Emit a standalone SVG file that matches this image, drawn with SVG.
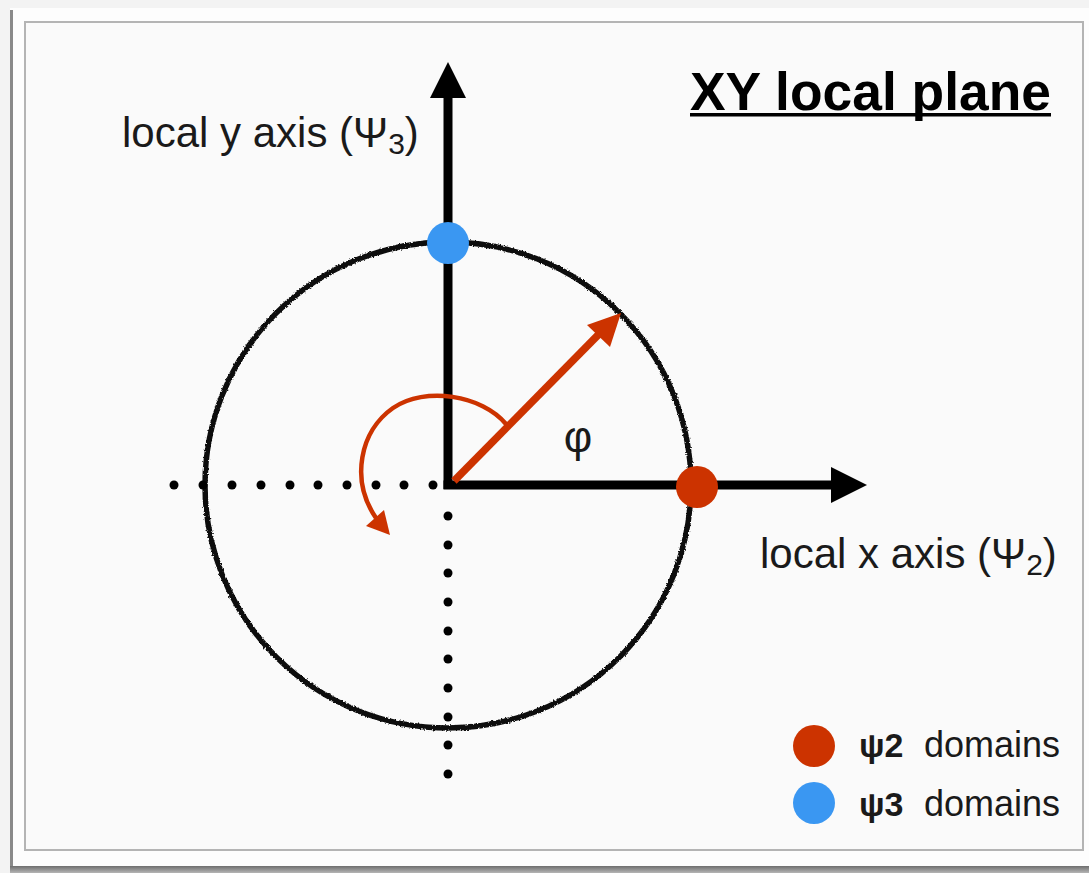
<svg xmlns="http://www.w3.org/2000/svg" width="1089" height="873" viewBox="0 0 1089 873">
<defs>
<style>
.lbl{font-family:"Liberation Sans",Arial,sans-serif;fill:#1a1a1a;}
.axis{stroke:#000;stroke-width:9;fill:none;}
.dot{fill:#000;}
.red{fill:#cc3300;}
.redline{stroke:#cc3300;fill:none;}
</style>
<linearGradient id="shadow" x1="0" y1="0" x2="0" y2="1">
<stop offset="0" stop-color="#6e6e6e"/>
<stop offset="1" stop-color="#b5b5b5"/>
</linearGradient>
<filter id="rough" x="-5%" y="-5%" width="110%" height="110%">
<feTurbulence type="fractalNoise" baseFrequency="0.6" numOctaves="2" seed="3" result="n"/>
<feDisplacementMap in="SourceGraphic" in2="n" scale="3" xChannelSelector="R" yChannelSelector="G"/>
</filter>
</defs>
<!-- frame -->
<rect x="0" y="0" width="1089" height="873" fill="#f3f3f3"/>
<rect x="10" y="8" width="1079" height="858" fill="#fdfdfd"/>
<rect x="10" y="10" width="3" height="856" fill="#8a8a8a"/>
<rect x="10" y="866" width="1079" height="7" fill="url(#shadow)"/>
<rect x="25" y="22" width="1058" height="828" fill="#fafafa" stroke="#b4b4b4" stroke-width="2"/>

<!-- title -->
<g id="title">
<text class="lbl" x="690" y="110" font-size="53" font-weight="bold" style="fill:#000" textLength="361" lengthAdjust="spacingAndGlyphs">XY local plane</text>
<rect x="690" y="113" width="361" height="3.5" fill="#000"/>
</g>

<!-- circle -->
<g id="circle">
<circle cx="448" cy="485" r="243" fill="none" stroke="#111" stroke-width="5.5" filter="url(#rough)"/>
</g>

<!-- connectors -->
<g id="connectors">
<g class="dot">
<circle cx="174" cy="485" r="4.5"/><circle cx="203" cy="485" r="4.5"/><circle cx="232" cy="485" r="4.5"/>
<circle cx="261" cy="485" r="4.5"/><circle cx="290" cy="485" r="4.5"/><circle cx="318" cy="485" r="4.5"/>
<circle cx="347" cy="485" r="4.5"/><circle cx="376" cy="485" r="4.5"/><circle cx="404" cy="485" r="4.5"/>
<circle cx="433" cy="485" r="4.5"/>
<circle cx="448" cy="516" r="4.5"/><circle cx="448" cy="545" r="4.5"/><circle cx="448" cy="573" r="4.5"/>
<circle cx="448" cy="602" r="4.5"/><circle cx="448" cy="631" r="4.5"/><circle cx="448" cy="659" r="4.5"/>
<circle cx="448" cy="688" r="4.5"/><circle cx="448" cy="717" r="4.5"/><circle cx="448" cy="745" r="4.5"/>
<circle cx="448" cy="774" r="4.5"/>
</g>
<path class="axis" d="M448 489 L448 94"/>
<polygon points="448,62 430,98 466,98" fill="#000"/>
<path class="axis" d="M443.5 485 L835 485"/>
<polygon points="867,485 831,467 831,503" fill="#000"/>
<path class="redline" stroke-width="7.5" d="M454 481 L602 331"/>
<polygon class="red" points="621,313 587,325 610,347"/>
<path class="redline" stroke-width="4.5" d="M506 424 C482 395 425 386 393 408 C360 431 350 480 376 518"/>
<polygon class="red" points="390,535 366,526 384,510"/>
</g>

<g id="psi3-point"><circle cx="448" cy="243" r="21" fill="#3a97f2"/></g>
<g id="psi2-point"><circle cx="697" cy="487" r="21" fill="#cc3300"/></g>

<g id="y-label">
<text class="lbl" x="122" y="147" font-size="42">local y axis (Ψ<tspan font-size="30" dy="7">3</tspan><tspan dy="-7">)</tspan></text>
</g>
<g id="x-label">
<text class="lbl" x="760" y="568" font-size="42">local x axis (Ψ<tspan font-size="30" dy="7">2</tspan><tspan dy="-7">)</tspan></text>
</g>
<g id="phi-label">
<text class="lbl" x="578" y="452" font-size="44" text-anchor="middle">φ</text>
</g>

<g id="legend-psi2">
<circle cx="814" cy="746" r="21" fill="#cc3300"/>
<text class="lbl" x="859" y="757" font-size="34" font-weight="bold">ψ2</text>
<text class="lbl" x="924" y="757" font-size="36">domains</text>
</g>
<g id="legend-psi3">
<circle cx="814" cy="803" r="21" fill="#3a97f2"/>
<text class="lbl" x="859" y="816" font-size="34" font-weight="bold">ψ3</text>
<text class="lbl" x="924" y="816" font-size="36">domains</text>
</g>
</svg>
